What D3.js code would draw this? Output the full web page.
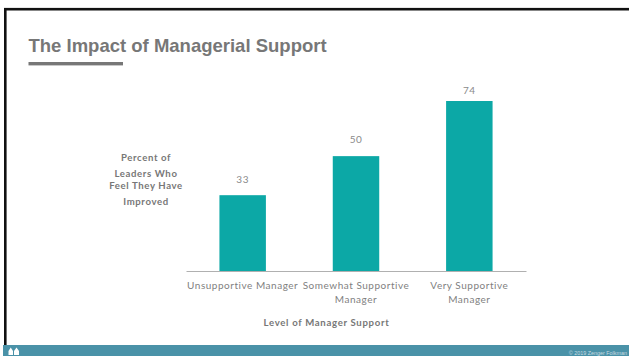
<!DOCTYPE html>
<html>
<head>
<meta charset="utf-8">
<script src="https://cdn.jsdelivr.net/npm/d3@7"></script>
<style>
html,body{margin:0;padding:0;background:#fff;overflow:hidden}
svg{display:block}
</style>
</head>
<body>
<svg id="slide" width="629" height="356"></svg>
<script>
// Survey results: share of leaders who feel they have improved, by level of manager support
const titleText = "The Impact of Managerial Support";
const categories = ["Unsupportive Manager", "Somewhat Supportive Manager", "Very Supportive Manager"];
const categoryLines = [["Unsupportive  Manager"], ["Somewhat Supportive", "Manager"], ["Very Supportive", "Manager"]];
const percentImproved = [33, 50, 74];
const yAxisLines = ["Percent of", "Leaders Who", "Feel They Have", "Improved"];
const xAxisTitle = "Level of Manager Support";
const footerText = "© 2019  Zenger Folkman";

const svg = d3.select("#slide");
const labelFont = "Lato, 'Open Sans', sans-serif";
const grey = "#777777";

// Slide frame
svg.append("rect").attr("x", 5.3).attr("y", 9.2).attr("width", 640).attr("height", 360)
  .attr("fill", "#fff").attr("stroke", "#111").attr("stroke-width", 2.6);

// Footer band
svg.append("rect").attr("x", 3).attr("y", 345).attr("width", 626).attr("height", 11).attr("fill", "#4a92a8");
svg.append("text").attr("x", 627).attr("y", 355).attr("text-anchor", "end")
  .attr("font-family", "'Liberation Sans', sans-serif").attr("font-size", 5.4)
  .attr("fill", "#c9dae0").text(footerText);

// Small logo mark in the footer band
const logo = svg.append("g").attr("fill", "#fff");
[[8.5, 13], [14, 19]].forEach(([a, b]) => {
  logo.append("path").attr("d", d3.line()([[a, 355], [a, 351], [(a + b) / 2, 347.5], [b, 351], [b, 355]]) + "Z");
});

// Title and rule beneath it
svg.append("text").attr("x", 28.5).attr("y", 51.5)
  .attr("font-family", "'Liberation Sans', Arial, sans-serif").attr("font-weight", 700)
  .attr("font-size", 18.5).attr("fill", grey).text(titleText);
svg.append("rect").attr("x", 28.5).attr("y", 62).attr("width", 94.5).attr("height", 3.4).attr("fill", grey);

// Scales
const x = d3.scaleBand().domain(categories).range([186, 526]).paddingInner(0.59).paddingOuter(0.295);
const y = d3.scaleLinear().domain([0, 74]).range([271, 101]);

// Bars
svg.append("g").selectAll("rect").data(percentImproved).join("rect")
  .attr("x", (d, i) => x(categories[i]))
  .attr("y", d => y(d))
  .attr("width", x.bandwidth())
  .attr("height", d => y(0) - y(d))
  .attr("fill", "#0ca8a6");

// Value labels; the tallest bar's label sits closer to its bar
const labelGap = [12.5, 13, 7.5];
svg.append("g").selectAll("text").data(percentImproved).join("text")
  .attr("x", (d, i) => x(categories[i]) + x.bandwidth() / 2)
  .attr("y", (d, i) => y(d) - labelGap[i])
  .attr("text-anchor", "middle")
  .attr("font-family", labelFont).attr("font-size", 10).attr("letter-spacing", 0.5)
  .attr("fill", "#8a8a8a").text(d => d);

// Baseline with wrapped category labels
const xAxis = svg.append("g").attr("transform", `translate(0,${y(0)})`)
  .call(d3.axisBottom(x).tickSize(0).tickFormat(""));
xAxis.select(".domain").attr("stroke", "#b0b0b0").attr("stroke-width", 1);
categories.forEach((c, i) => {
  categoryLines[i].forEach((line, j) => {
    svg.append("text")
      .attr("x", x(c) + x.bandwidth() / 2)
      .attr("y", 289 + j * 13.5)
      .attr("text-anchor", "middle")
      .attr("font-family", labelFont).attr("font-size", 10).attr("letter-spacing", 0.52)
      .attr("fill", "#7f7f7f").text(line);
  });
});

// Axis titles
svg.append("text").attr("x", 326.5).attr("y", 326).attr("text-anchor", "middle")
  .attr("font-family", labelFont).attr("font-weight", 700).attr("font-size", 9.6)
  .attr("letter-spacing", 0.68).attr("fill", grey).text(xAxisTitle);

const yAxisY = [161, 177, 189, 205];
yAxisLines.forEach((line, i) => {
  svg.append("text").attr("x", 146).attr("y", yAxisY[i]).attr("text-anchor", "middle")
    .attr("font-family", labelFont).attr("font-weight", 700).attr("font-size", 9.6)
    .attr("letter-spacing", 0.62).attr("fill", grey).text(line);
});
</script>
</body>
</html>
